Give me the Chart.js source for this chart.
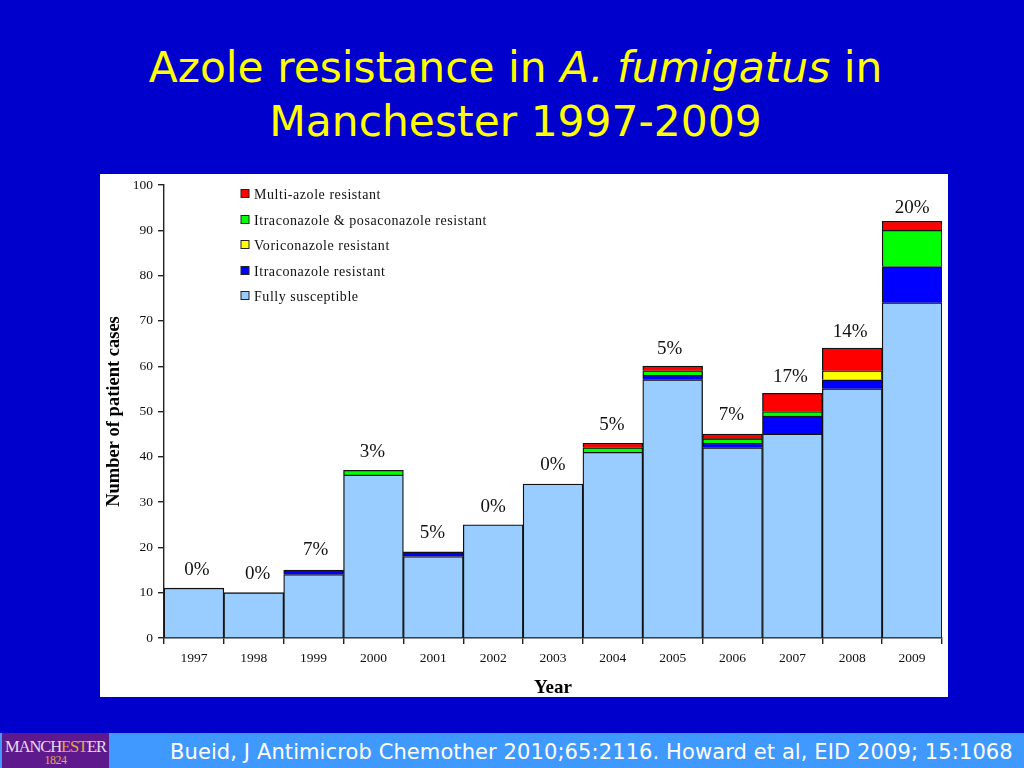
<!DOCTYPE html>
<html><head><meta charset="utf-8">
<script src="https://cdn.jsdelivr.net/npm/chart.js@4"></script>
<style>
html,body{margin:0;padding:0;width:1024px;height:768px;overflow:hidden;background:#0000cc}
#title{position:absolute;left:0;top:41px;width:1031px;text-align:center;color:#ffff00;font:42.4px/54px "DejaVu Sans",sans-serif;}
#title i{font-style:oblique}
#panel{position:absolute;left:100px;top:174px;width:848px;height:523px;background:#fff}
#foot{position:absolute;left:0;top:733px;width:1024px;height:35px;background:#3f99ff}
#logo{position:absolute;left:2px;top:0;width:107px;height:35px;background:#5e1a8c;color:#e8dcec;font:16.5px/17px "Liberation Serif",serif;text-align:center;letter-spacing:-1.1px;padding-top:5px;box-sizing:border-box;white-space:nowrap}
#logo b{font-weight:normal;color:#e0a850}
#logo small{display:block;font-size:12px;line-height:10px;color:#e0a850;letter-spacing:-.5px}
#ref{position:absolute;left:170px;top:5px;color:#fff;font:21px/28px "DejaVu Sans",sans-serif;white-space:nowrap;letter-spacing:.1px}
</style></head><body>
<div id="title">Azole resistance in <i>A. fumigatus</i> in<br>Manchester 1997-2009</div>
<div id="panel"><canvas id="c" width="848" height="523"></canvas></div>
<div id="foot"><div id="logo">MANCH<b>EST</b>ER<small>1824</small></div><div id="ref">Bueid, J Antimicrob Chemother 2010;65:2116. Howard et al, EID 2009; 15:1068</div></div>
<script>
const years=['1997','1998','1999','2000','2001','2002','2003','2004','2005','2006','2007','2008','2009'];
const fullySusceptible=[11,10,14,36,18,25,34,41,57,42,45,55,74];
const itraconazole=[null,null,1,null,1,null,null,null,1,1,4,2,8];
const voriconazole=[null,null,null,null,null,null,null,null,null,null,null,2,null];
const itraPosa=[null,null,null,1,null,null,null,1,1,1,1,null,8];
const multiAzole=[null,null,null,null,null,null,null,1,1,1,4,5,2];
const percentLabels=['0%','0%','7%','3%','5%','0%','0%','5%','5%','7%','17%','14%','20%'];
const yTicks=[0,10,20,30,40,50,60,70,80,90,100];

const serif='"Liberation Serif",serif';
const mk=(label,data,color)=>({label,data,backgroundColor:color,borderColor:'#111',borderWidth:1.3,stack:'a',barPercentage:1,categoryPercentage:1});

const overlay={id:'overlay',afterDatasetsDraw(ch,args,opts){
  const {ctx,scales:{x,y},data}=ch;
  ctx.save();
  ctx.fillStyle='#111';ctx.font='19px '+serif;ctx.textAlign='center';ctx.textBaseline='middle';
  years.forEach((yr,i)=>{
    let tot=0;data.datasets.forEach(d=>tot+=d.data[i]||0);
    ctx.fillText(percentLabels[i],x.getPixelForValue(i)+opts.nudgeX[i],y.getPixelForValue(tot)-opts.lift[i]);
  });
  // legend, top-most series first
  const rev=[...data.datasets].reverse();
  const rows=[21,47,72,98,123];
  ctx.font='14px '+serif;ctx.textAlign='left';
  try{ctx.letterSpacing='0.55px';}catch(e){}
  rev.forEach((d,i)=>{
    ctx.fillStyle=d.backgroundColor;ctx.fillRect(141,rows[i]-5.5,8,8);
    ctx.strokeStyle='#222';ctx.lineWidth=1;ctx.strokeRect(141,rows[i]-5.5,8,8);
    ctx.fillStyle='#111';ctx.fillText(d.label,154,rows[i]);
  });
  ctx.restore();
}};

new Chart(document.getElementById('c'),{
 type:'bar',
 data:{labels:years,datasets:[
  mk('Fully susceptible',fullySusceptible,'#99ccff'),
  mk('Itraconazole resistant',itraconazole,'#0000ff'),
  mk('Voriconazole resistant',voriconazole,'#ffff00'),
  mk('Itraconazole & posaconazole resistant',itraPosa,'#00ff00'),
  mk('Multi-azole resistant',multiAzole,'#ff0000')
 ]},
 options:{
  responsive:false,animation:false,
  layout:{padding:{top:11,right:6,left:0,bottom:0}},
  plugins:{legend:{display:false},title:{display:false},tooltip:{enabled:false},
    overlay:{nudgeX:[3,4,2,-1,-1,0,0,-1,-3,-1,-2,-2,0],lift:[18,19,20,18,19,18,19,18,17,19,16,16,13]}},
  scales:{
   x:{stacked:true,offset:true,
    grid:{display:true,drawOnChartArea:false,offset:true,color:'#222',tickLength:6,lineWidth:1.4},
    border:{display:true,color:'#222',width:1.4},
    ticks:{color:'#111',font:{family:serif,size:13.5},padding:6,maxRotation:0,autoSkip:false},
    title:{display:true,text:'Year',color:'#000',font:{family:serif,size:19,weight:'bold',lineHeight:0.9},padding:{top:8,bottom:0}},
    afterFit(s){s.height=59;s.paddingLeft=0;s.paddingRight=0;}
   },
   y:{stacked:true,min:0,max:100,
    afterBuildTicks(s){s.ticks=yTicks.map(v=>({value:v}));},
    grid:{display:true,drawOnChartArea:false,color:'#222',tickLength:6,lineWidth:1.4},
    border:{display:true,color:'#222',width:1.4},
    ticks:{color:'#111',font:{family:serif,size:13.5},padding:5},
    title:{display:true,text:'Number of patient cases',color:'#000',font:{family:serif,size:18.5,weight:'bold'},padding:{top:3,bottom:0}},
    afterFit(s){s.width=64;s.paddingTop=0;s.paddingBottom=0;}
   }
  }
 },
 plugins:[overlay]
});
</script>
</body></html>
